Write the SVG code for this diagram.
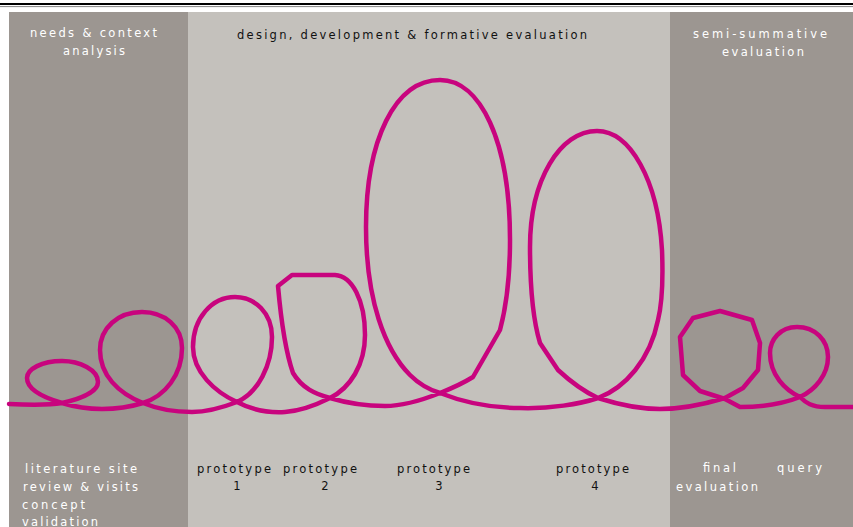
<svg xmlns="http://www.w3.org/2000/svg" width="853" height="527" viewBox="0 0 853 527">
<style>
.dark{fill:#9c9691}
.light{fill:#c4c1bc}
.t{font-family:"DejaVu Sans","Liberation Sans",sans-serif;font-size:11.5px}
.w{fill:#ffffff}
.k{fill:#111111}
.curve{fill:none;stroke:#c8047e;stroke-width:4.5;stroke-linejoin:round;stroke-linecap:round}
</style>
<rect x="0" y="0" width="853" height="527" fill="#ffffff"/>
<line x1="0" y1="4" x2="853" y2="4" stroke="#000" stroke-width="2.2"/>
<line x1="0" y1="6.6" x2="853" y2="6.6" stroke="#666" stroke-width="0.8"/>
<g id="panel-needs">
<rect class="dark" x="9" y="12" width="179" height="515"/>
<text class="t w" x="30" y="37" textLength="127" lengthAdjust="spacing">needs &amp; context</text>
<text class="t w" x="63" y="55" textLength="62" lengthAdjust="spacing">analysis</text>
</g>
<g id="panel-design">
<rect class="light" x="188" y="12" width="482" height="515"/>
<text class="t k" x="237" y="38.5" textLength="350" lengthAdjust="spacing">design, development &amp; formative evaluation</text>
</g>
<g id="panel-semi">
<rect class="dark" x="670" y="12" width="183" height="515"/>
<text class="t w" x="693" y="37.5" textLength="134" lengthAdjust="spacing">semi-summative</text>
<text class="t w" x="722" y="55.5" textLength="82" lengthAdjust="spacing">evaluation</text>
</g>
<g id="connectors">
<path class="curve" d="M 9 404 C 30 405 50 405 62 403 C 80 399 98 392 98 382 C 98 370 80 361 62 361 C 42 361 27 369 27 378 C 27 390 45 398 62 403 C 75 407 88 409 102 409 C 118 409 130 407 143 403 C 165 396 182 375 182 348 C 182 327 165 312 142 312 C 118 312 100 328 100 350 C 100 375 118 393 143 403 C 160 410 175 412 192 412 C 207 412 224 407 237 402 C 258 393 272 365 272 337 C 272 313 255 297 235 297 C 212 297 193 318 193 347 C 193 372 215 392 237 402 C 252 410 268 413 285 412 C 300 411 318 404 330 398 C 350 388 365 365 365 335 C 365 300 352 276 335 275 L 292 275 L 278 286 C 281 320 285 350 293 373 C 302 388 315 394 330 398 C 350 404 368 406 385 406 C 405 406 425 399 440 393 C 455 387 465 382 473 377 L 500 330 C 508 300 510 270 510 240 C 510 140 480 80 440 80 C 395 80 366 140 366 227 C 366 300 385 350 410 375 C 420 385 430 390 440 393 C 470 405 500 408 520 408 C 550 409 580 404 598 398 C 625 388 650 360 658 320 C 663 300 663 275 662 250 C 658 180 630 131 597 131 C 560 131 530 180 530 247 C 530 290 533 320 540 343 L 558 370 C 572 383 585 392 598 398 C 620 405 640 409 660 409 C 680 409 705 404 725 398 L 743 388 L 758 370 L 760 343 L 752 320 L 720 311 L 693 318 L 680 337 L 683 375 L 700 391 L 725 399 L 740 407 C 765 407 785 403 800 397 C 815 390 828 375 828 357 C 828 340 815 327 797 327 C 780 327 770 340 770 353 C 770 375 785 390 800 397 C 806 403 812 407 825 407 L 853 407"/>
</g>
<g id="label-literature">
<text class="t w" x="25" y="472.5" textLength="112" lengthAdjust="spacing">literature  site</text>
<text class="t w" x="23" y="490.5" textLength="115" lengthAdjust="spacing">review  &amp;  visits</text>
<text class="t w" x="22" y="508.5" textLength="63" lengthAdjust="spacing">concept</text>
<text class="t w" x="22" y="525.5" textLength="76" lengthAdjust="spacing">validation</text>
</g>
<g id="label-prototype1">
<text class="t k" x="197" y="473" textLength="74" lengthAdjust="spacing">prototype</text>
<text class="t k" x="237" y="490" text-anchor="middle">1</text>
</g>
<g id="label-prototype2">
<text class="t k" x="283" y="473" textLength="74" lengthAdjust="spacing">prototype</text>
<text class="t k" x="325" y="490" text-anchor="middle">2</text>
</g>
<g id="label-prototype3">
<text class="t k" x="397" y="473" textLength="73" lengthAdjust="spacing">prototype</text>
<text class="t k" x="439" y="490" text-anchor="middle">3</text>
</g>
<g id="label-prototype4">
<text class="t k" x="556" y="473" textLength="73" lengthAdjust="spacing">prototype</text>
<text class="t k" x="595" y="490" text-anchor="middle">4</text>
</g>
<g id="label-final">
<text class="t w" x="703" y="472" textLength="33" lengthAdjust="spacing">final</text>
<text class="t w" x="676" y="491" textLength="82" lengthAdjust="spacing">evaluation</text>
</g>
<g id="label-query">
<text class="t w" x="777" y="472" textLength="45" lengthAdjust="spacing">query</text>
</g>
</svg>
